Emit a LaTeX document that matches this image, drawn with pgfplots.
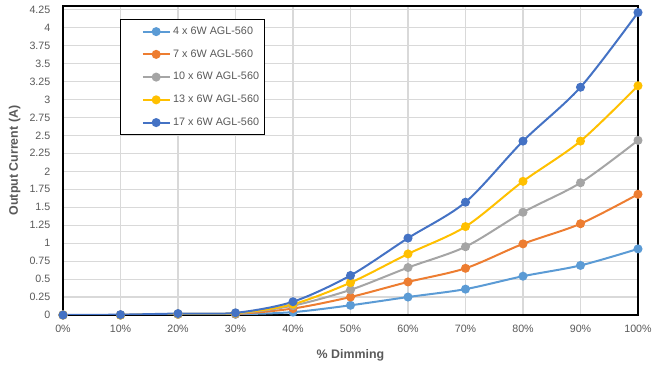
\documentclass[border=0pt]{standalone}
\usepackage{pgfplots}
\pgfplotsset{compat=1.18}
\usepackage{fontspec}
\setmainfont{Liberation Sans}
\definecolor{c1}{HTML}{5B9BD5}
\definecolor{c2}{HTML}{ED7D31}
\definecolor{c3}{HTML}{A5A5A5}
\definecolor{c4}{HTML}{FFC000}
\definecolor{c5}{HTML}{4472C4}
\definecolor{gridc}{HTML}{D9D9D9}
\definecolor{tickc}{HTML}{595959}
\begin{document}
\begin{tikzpicture}
\begin{axis}[
  scale only axis, width=431.25pt, height=231.75pt,
  at={(0,0)}, anchor=south west,
  xmin=0, xmax=100, ymin=0, ymax=4.3,
  xtick={0,10,...,100},
  xticklabels={0\%,10\%,20\%,30\%,40\%,50\%,60\%,70\%,80\%,90\%,100\%},
  ytick={0,0.25,...,4.25},
  yticklabels={0,0.25,0.5,0.75,1,1.25,1.5,1.75,2,2.25,2.5,2.75,3,3.25,3.5,3.75,4,4.25},
  /pgf/number format/assume math mode=true,
  grid=major, major grid style={gridc, line width=0.8pt},
  tick style={draw=none},
  axis line style={black, line width=0.8pt},
  tick label style={font=\fontsize{8}{9.5}\selectfont, text=tickc},
  xticklabel style={yshift=-4pt},
  yticklabel style={xshift=-6pt},
  xlabel={\textbf{\% Dimming}}, ylabel={\textbf{Output Current (A)}},
  label style={font=\fontsize{9.3}{11}\selectfont, text=tickc},
  xlabel style={yshift=-6pt},
  ylabel style={yshift=0pt},
  every axis plot/.append style={line width=1.5pt, smooth, tension=0.5, mark=*, mark size=2.6pt, mark options={solid}},
  legend style={at={(0.0991,0.958)}, anchor=north west, draw=black, line width=0.8pt,
    font=\fontsize{8.1}{9.5}\selectfont, text=tickc, row sep=5.9pt,
    inner xsep=2pt, inner ysep=3.5pt},
  legend cell align=left,
  legend image code/.code={\path (0pt,0pt); \draw[mark repeat=2,mark phase=2,#1] plot coordinates {(14pt,0pt) (24pt,0pt) (34pt,0pt)};},
]
\addplot[color=c1] coordinates {(0,0) (10,0) (20,0.01) (30,0.01) (40,0.04) (50,0.135) (60,0.25) (70,0.36) (80,0.54) (90,0.69) (100,0.92)};
\addlegendentry{4 x 6W AGL-560}
\addplot[color=c2] coordinates {(0,0) (10,0) (20,0.01) (30,0.015) (40,0.09) (50,0.25) (60,0.46) (70,0.65) (80,0.99) (90,1.27) (100,1.68)};
\addlegendentry{7 x 6W AGL-560}
\addplot[color=c3] coordinates {(0,0) (10,0) (20,0.01) (30,0.02) (40,0.13) (50,0.35) (60,0.66) (70,0.95) (80,1.43) (90,1.84) (100,2.43)};
\addlegendentry{10 x 6W AGL-560}
\addplot[color=c4] coordinates {(0,0) (10,0) (20,0.015) (30,0.025) (40,0.15) (50,0.45) (60,0.85) (70,1.23) (80,1.86) (90,2.42) (100,3.19)};
\addlegendentry{13 x 6W AGL-560}
\addplot[color=c5] coordinates {(0,0) (10,0.005) (20,0.02) (30,0.03) (40,0.185) (50,0.55) (60,1.07) (70,1.57) (80,2.42) (90,3.17) (100,4.21)};
\addlegendentry{17 x 6W AGL-560}
\end{axis}
\useasboundingbox (-47.25pt,-36pt) rectangle (449.25pt,236.25pt);
\end{tikzpicture}
\end{document}
